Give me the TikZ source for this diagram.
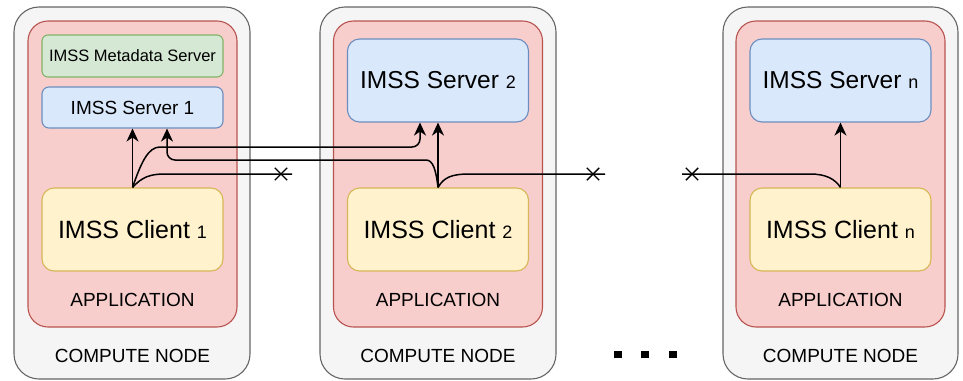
\documentclass[tikz,border=0pt]{standalone}
\usepackage{fontspec}
\setmainfont{Liberation Sans}
\usetikzlibrary{arrows.meta,shapes.misc}

\definecolor{nodefill}{HTML}{F5F5F5}
\definecolor{nodeline}{HTML}{666666}
\definecolor{appfill}{HTML}{F8CECC}
\definecolor{appline}{HTML}{B85450}
\definecolor{metafill}{HTML}{D5E8D4}
\definecolor{metaline}{HTML}{82B366}
\definecolor{srvfill}{HTML}{DAE8FC}
\definecolor{srvline}{HTML}{6C8EBF}
\definecolor{clifill}{HTML}{FFF2CC}
\definecolor{cliline}{HTML}{D6B656}

\newcommand{\fs}[1]{\fontsize{#1}{#1}\selectfont}

\tikzset{
  box/.style={rectangle, inner sep=0pt, line width=1.1pt, text=black},
  computebox/.style={box, fill=nodefill, draw=nodeline, rounded corners=25pt,
    minimum width=236pt, minimum height=372pt},
  appbox/.style={box, fill=appfill, draw=appline, rounded corners=20pt,
    minimum width=209pt, minimum height=306pt},
  metabox/.style={box, fill=metafill, draw=metaline, rounded corners=6pt,
    minimum width=181pt, minimum height=42pt, font=\fs{16.5}},
  srvbox/.style={box, fill=srvfill, draw=srvline, rounded corners=7pt,
    minimum width=181pt},
  clibox/.style={box, fill=clifill, draw=cliline, rounded corners=12pt,
    minimum width=181pt, minimum height=83pt, font=\fs{25}},
  caption/.style={inner sep=0pt, font=\fs{19}},
  conn/.style={line width=1.5pt, draw=black},
  arr/.style={conn, -{Stealth[length=13pt,width=12pt,inset=4pt]}},
  lost/.style={cross out, draw=black, line width=1.4pt, minimum size=11pt, inner sep=0pt},
  dot/.style={rectangle, fill=black, minimum width=8pt, minimum height=7pt, inner sep=0pt}
}

\begin{document}
\begin{tikzpicture}[x=1pt, y=-1pt]
\useasboundingbox (0,0) rectangle (963,380);

% compute node 1
\node[computebox] (cn1) at (132,193) {};
\node[appbox] (app1) at (132.5,174) {};
\node[metabox] (meta) at (132.5,56) {IMSS Metadata Server};
\node[srvbox, minimum height=41pt, font=\fs{19}] (srv1) at (132.5,107.5) {IMSS Server 1};
\node[clibox] (cli1) at (132.5,229.5) {IMSS Client {\fs{18}1}};
\node[caption] (appt1) at (132.5,300) {APPLICATION};
\node[caption] (cnt1) at (132.5,356) {COMPUTE NODE};

% compute node 2
\node[computebox] (cn2) at (438,193) {};
\node[appbox] (app2) at (438,174) {};
\node[srvbox, rounded corners=12pt, minimum height=83pt, font=\fs{24.5}] (srv2) at (438,80.5) {IMSS Server {\fs{18}2}};
\node[clibox] (cli2) at (438,229.5) {IMSS Client {\fs{18}2}};
\node[caption] (appt2) at (438,300) {APPLICATION};
\node[caption] (cnt2) at (438,356) {COMPUTE NODE};

% compute node n
\node[computebox, minimum width=235pt] (cn3) at (840.5,193) {};
\node[appbox] (app3) at (840.5,174) {};
\node[srvbox, rounded corners=12pt, minimum height=83pt, font=\fs{24.5}] (srv3) at (840.5,80.5) {IMSS Server {\fs{18}n}};
\node[clibox] (cli3) at (840.5,229.5) {IMSS Client {\fs{18}n}};
\node[caption] (appt3) at (840.5,300) {APPLICATION};
\node[caption] (cnt3) at (840.5,356) {COMPUTE NODE};

% ellipsis between the nodes
\node[dot] (d1) at (617.5,354.5) {};
\node[dot] (d2) at (645,354.5) {};
\node[dot] (d3) at (673,354.5) {};

% open ends of the links to other nodes
\coordinate (end1) at (292,174);
\coordinate (end2) at (605,174);
\coordinate (start3) at (682,174);
\node[lost] (x1) at (281,174) {};
\node[lost] (x2) at (593,174) {};
\node[lost] (x3) at (692,174) {};

% local client -> server
\draw[arr] (cli1.north) -- (srv1.south);
\draw[arr] (cli2.north) -- (srv2.south);
\draw[arr] (cli3.north) -- (srv3.south);

% client 1 -> server 2
\draw[arr, rounded corners=8pt] (cli1.north) .. controls (141,163) and (148,147) .. (168,147)
  -| ([xshift=-18pt]srv2.south);
% client 2 -> server 1
\draw[arr, rounded corners=8pt] (cli2.north) .. controls (436,170) and (433,160) .. (418,160)
  -| ([xshift=34.5pt]srv1.south);
% links leaving towards the other nodes
\draw[conn] (cli1.north) .. controls (142,177) and (150,174) .. (165,174) -- (end1);
\draw[conn] (cli2.north) .. controls (444,177) and (452,174) .. (470,174) -- (end2);
\draw[conn] (start3) -- (810,174) .. controls (826,174) and (835,179) .. (cli3.north);
\end{tikzpicture}
\end{document}
